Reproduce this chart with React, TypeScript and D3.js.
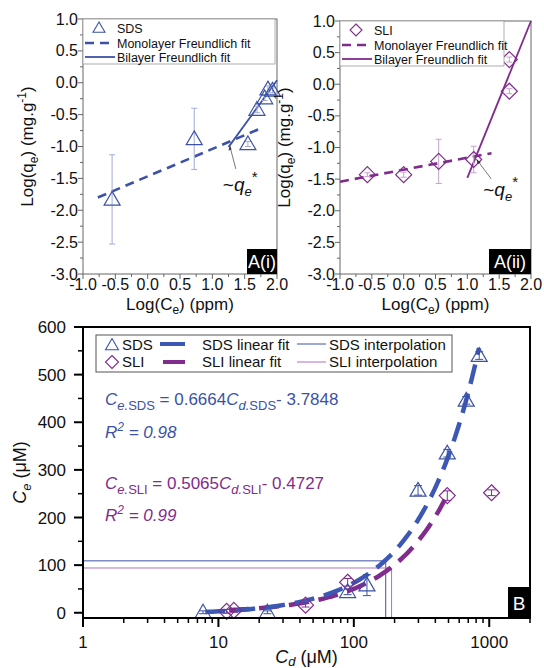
import React from "react";
import * as d3 from "d3";

// ---------- Data: panel A(i) SDS ----------
const sdsLogCe = [-0.55, 0.72, 1.55, 1.69, 1.81, 1.86, 1.93];
const sdsLogQe = [-1.83, -0.88, -0.96, -0.42, -0.24, -0.1, -0.12];
const sdsLogErr = [0.7, 0.48, 0.04, 0.05, 0.04, 0.05, 0.04];
const sdsMonoFitX = [-0.77, 1.74];
const sdsMonoFitY = [-1.8, -0.72];
const sdsBiFitX = [1.25, 2.0];
const sdsBiFitY = [-1.01, 0.04];
const sdsQeStar = [1.27, -0.99];

// ---------- Data: panel A(ii) SLI ----------
const sliLogCe = [-0.57, 0.0, 0.55, 1.1, 1.66, 1.66];
const sliLogQe = [-1.43, -1.43, -1.22, -1.19, -0.11, 0.39];
const sliLogErr = [0.03, 0.04, 0.35, 0.21, 0.04, 0.04];
const sliMonoFitX = [-1.0, 1.38];
const sliMonoFitY = [-1.54, -1.09];
const sliBiFitX = [1.0, 2.0];
const sliBiFitY = [-1.48, 1.0];
const sliQeStar = [1.14, -1.18];

const aTicks = [-1.0, -0.5, 0.0, 0.5, 1.0, 1.5, 2.0];
const aYTicks = [1.0, 0.5, 0.0, -0.5, -1.0, -1.5, -2.0, -2.5, -3.0];

// ---------- Data: panel B ----------
const bSdsCd = [7.7, 23, 90, 125, 298, 490, 676, 843];
const bSdsCe = [1, 1, 44, 58, 257, 335, 446, 540];
const bSdsErr = [3, 3, 6, 22, 10, 8, 8, 8];
const bSliCd = [11.5, 13, 44, 90, 490, 1040];
const bSliCe = [3, 5, 16, 64, 246, 252];
const bSliErr = [4, 4, 4, 8, 10, 6];
const sdsFit = { slope: 0.6664, intercept: -3.7848, from: 8, to: 840 };
const sliFit = { slope: 0.5065, intercept: -0.4727, from: 12, to: 470 };
const sdsInterp = { ce: 109, cd: 172 };
const sliInterp = { ce: 94, cd: 190 };
const bXTicks = [1, 10, 100, 1000];
const bYTicks = [0, 100, 200, 300, 400, 500, 600];

const SDS = "#3b52a8";
const SLI = "#7f2c8c";
const SDS_ERR = "#a3aad6";
const SLI_ERR = "#c7a0d0";
const FONT = "'Liberation Sans', Arial, sans-serif";

const tri = (x: number, y: number, r = 7.5) =>
  `M${x},${y - r}L${x + r},${y + r * 0.72}L${x - r},${y + r * 0.72}Z`;
const dia = (x: number, y: number, r = 7.5) =>
  `M${x},${y - r}L${x + r},${y}L${x},${y + r}L${x - r},${y}Z`;

type PanelAProps = {
  left: number; right: number; top: number; bottom: number;
  xs: number[]; ys: number[]; errs: number[];
  monoX: number[]; monoY: number[]; biX: number[]; biY: number[];
  star: number[]; color: string; errColor: string;
  marker: "tri" | "dia"; name: string; tag: string; legendRight: number;
  arrow: number[]; label: number[];
};

function PanelA(p: PanelAProps) {
  const x = d3.scaleLinear().domain([-1, 2]).range([p.left, p.right]);
  const y = d3.scaleLinear().domain([-3, 1]).range([p.bottom, p.top]);
  const minorX = d3.range(-1, 2.001, 0.25);
  const minorY = d3.range(-3, 1.001, 0.25);
  const mk = p.marker === "tri" ? tri : dia;
  const sx = (arr: number[], arrY: number[]) =>
    d3.line()(arr.map((v, i) => [x(v), y(arrY[i])]) as [number, number][]) || "";
  const sx0 = x(p.star[0]);
  const sy0 = y(p.star[1]);
  const tagW = p.tag.length > 4 ? 42 : 30;
  const midX = (p.left + p.right) / 2;
  const midY = (p.top + p.bottom) / 2;
  const isMajor = (v: number) => Math.abs(v * 2 - Math.round(v * 2)) < 1e-6;
  return (
    <g fontFamily={FONT}>
      <rect x={p.left} y={p.top} width={p.right - p.left} height={p.bottom - p.top}
        fill="none" stroke="#666" strokeWidth={1} />
      {minorX.map((v) => (
        <line key={"mx" + v} x1={x(v)} x2={x(v)} y1={p.bottom}
          y2={p.bottom + (isMajor(v) ? 5 : 3)} stroke="#666" />
      ))}
      {minorY.map((v) => (
        <line key={"my" + v} y1={y(v)} y2={y(v)} x1={p.left}
          x2={p.left - (isMajor(v) ? 5 : 3)} stroke="#666" />
      ))}
      {aTicks.map((v) => (
        <text key={"tx" + v} x={x(v)} y={p.bottom + 16} fontSize={16} textAnchor="middle" fill="#111">
          {v.toFixed(1)}
        </text>
      ))}
      {aYTicks.map((v) => (
        <text key={"ty" + v} x={p.left - 5} y={y(v) + 5.5} fontSize={16} textAnchor="end" fill="#111">
          {v.toFixed(1)}
        </text>
      ))}
      <text x={midX} y={p.bottom + 36} fontSize={17} textAnchor="middle" fill="#111">
        Log(C<tspan fontSize={12} dy={4}>e</tspan><tspan dy={-4}>) (ppm)</tspan>
      </text>
      <text transform={`translate(${p.left - 50},${midY}) rotate(-90)`} fontSize={17}
        textAnchor="middle" fill="#111">
        Log(q<tspan fontSize={12} dy={5}>e</tspan><tspan dy={-5}>) (mg.g</tspan>
        <tspan fontSize={12} dy={-7}>-1</tspan><tspan dy={7}>)</tspan>
      </text>
      <path d={sx(p.monoX, p.monoY)} stroke={p.color} strokeWidth={2.6} strokeDasharray="9,6" fill="none" />
      <path d={sx(p.biX, p.biY)} stroke={p.color} strokeWidth={1.8} fill="none" />
      {p.xs.map((v, i) => {
        const cx = x(v);
        const y1 = y(p.ys[i] + p.errs[i]);
        const y2 = y(p.ys[i] - p.errs[i]);
        return (
          <g key={"e" + i} stroke={p.errColor} strokeWidth={1}>
            <line x1={cx} x2={cx} y1={y1} y2={y2} />
            <line x1={cx - 3} x2={cx + 3} y1={y1} y2={y1} />
            <line x1={cx - 3} x2={cx + 3} y1={y2} y2={y2} />
          </g>
        );
      })}
      {p.xs.map((v, i) => (
        <path key={"m" + i} d={mk(x(v), y(p.ys[i]), 8)} fill="none" stroke={p.color} strokeWidth={1.2} />
      ))}
      <line x1={sx0 + p.arrow[0]} y1={sy0 + p.arrow[1]} x2={sx0} y2={sy0} stroke="#555" strokeWidth={0.8} />
      <path d={`M${sx0},${sy0}l${p.arrow[0] > 10 ? 1.5 : -1.2},5l3,-1.5Z`} fill="#333" />
      <text x={sx0 + p.label[0]} y={sy0 + p.label[1]} fontSize={19} fill="#111">
        ~<tspan fontStyle="italic">q</tspan>
        <tspan fontStyle="italic" fontSize={13} dy={5}>e</tspan>
        <tspan fontSize={15} dy={-14}>*</tspan>
      </text>
      <rect x={p.left} y={p.top} width={p.legendRight - p.left} height={45}
        fill="#fff" stroke="#999" strokeWidth={0.8} />
      <path d={mk(p.left + 16, p.top + 9, 6)} fill="none" stroke={p.color} strokeWidth={1.1} />
      <text x={p.left + 34} y={p.top + 14} fontSize={12.5} fill="#111">{p.name}</text>
      <line x1={p.left + 2} x2={p.left + 32} y1={p.top + 24} y2={p.top + 24}
        stroke={p.color} strokeWidth={2.6} strokeDasharray="9,6" />
      <text x={p.left + 34} y={p.top + 28.5} fontSize={12.5} fill="#111">Monolayer Freundlich fit</text>
      <line x1={p.left + 2} x2={p.left + 32} y1={p.top + 38} y2={p.top + 38}
        stroke={p.color} strokeWidth={1.8} />
      <text x={p.left + 34} y={p.top + 42.5} fontSize={12.5} fill="#111">Bilayer Freundlich fit</text>
      <rect x={p.right - tagW} y={p.bottom - 25} width={tagW} height={25} fill="#000" />
      <text x={p.right - tagW / 2} y={p.bottom - 6} fontSize={18} fill="#fff" textAnchor="middle">{p.tag}</text>
    </g>
  );
}

function PanelB() {
  const L = 83, R = 530, T = 327, B = 618;
  const x = d3.scaleLog().domain([1, 2000]).range([L, R]);
  const y = d3.scaleLinear().domain([-11, 600]).range([B, T]);
  const minorX: number[] = [];
  [1, 10, 100, 1000].forEach((d) => {
    for (let k = 2; k <= 9; k++) if (d * k <= 2000) minorX.push(d * k);
  });
  const minorY = d3.range(50, 600, 100);
  const fitPath = (f: { slope: number; intercept: number; from: number; to: number }) => {
    const n = 80;
    const pts: [number, number][] = d3.range(n + 1).map((i) => {
      const cd = f.from * Math.pow(f.to / f.from, i / n);
      return [x(cd), y(f.slope * cd + f.intercept)];
    });
    return d3.line()(pts) || "";
  };
  const errG = (cds: number[], ces: number[], errs: number[], c: string) =>
    cds.map((v, i) => {
      const cx = x(v);
      const y1 = y(ces[i] + errs[i]);
      const y2 = y(ces[i] - errs[i]);
      return (
        <g key={"be" + c + i} stroke={c} strokeWidth={1}>
          <line x1={cx} x2={cx} y1={y1} y2={y2} />
          <line x1={cx - 4} x2={cx + 4} y1={y1} y2={y1} />
          <line x1={cx - 4} x2={cx + 4} y1={y2} y2={y2} />
        </g>
      );
    });
  return (
    <g fontFamily={FONT}>
      <polyline points={`${L},${y(sdsInterp.ce)} ${x(sdsInterp.cd)},${y(sdsInterp.ce)} ${x(sdsInterp.cd)},${B}`}
        fill="none" stroke={SDS} strokeWidth={1} />
      <polyline points={`${L},${y(sliInterp.ce)} ${x(sliInterp.cd)},${y(sliInterp.ce)} ${x(sliInterp.cd)},${B}`}
        fill="none" stroke="#b070c0" strokeWidth={1} />
      <path d={fitPath(sliFit)} fill="none" stroke={SLI} strokeWidth={4.5} strokeDasharray="20,10" />
      <path d={fitPath(sdsFit)} fill="none" stroke="#3c57b4" strokeWidth={4.5} strokeDasharray="20,10" />
      {errG(bSdsCd, bSdsCe, bSdsErr, SDS)}
      {errG(bSliCd, bSliCe, bSliErr, SLI)}
      {bSdsCd.map((v, i) => (
        <path key={"bt" + i} d={tri(x(v), y(bSdsCe[i]), 8)} fill="none" stroke={SDS} strokeWidth={1.2} />
      ))}
      {bSliCd.map((v, i) => (
        <path key={"bd" + i} d={dia(x(v), y(bSliCe[i]), 8)} fill="none" stroke={SLI} strokeWidth={1.2} />
      ))}
      <rect x={L} y={T} width={R - L} height={B - T} fill="none" stroke="#000" strokeWidth={2} />
      {bXTicks.map((v) => (
        <g key={"bx" + v}>
          <line x1={x(v)} x2={x(v)} y1={B} y2={B + 9} stroke="#000" strokeWidth={2} />
          <text x={x(v)} y={B + 30} fontSize={17} textAnchor="middle" fill="#111">{v}</text>
        </g>
      ))}
      {minorX.map((v) => (
        <line key={"bmx" + v} x1={x(v)} x2={x(v)} y1={B} y2={B + 5} stroke="#000" strokeWidth={1.5} />
      ))}
      {bYTicks.map((v) => (
        <g key={"by" + v}>
          <line x1={L - 9} x2={L} y1={y(v)} y2={y(v)} stroke="#000" strokeWidth={2} />
          <text x={L - 17} y={y(v) + 6} fontSize={17} textAnchor="end" fill="#111">{v}</text>
        </g>
      ))}
      {minorY.map((v) => (
        <line key={"bmy" + v} x1={L - 5} x2={L} y1={y(v)} y2={y(v)} stroke="#000" strokeWidth={1.5} />
      ))}
      <text x={(L + R) / 2} y={B + 45} fontSize={18} textAnchor="middle" fill="#111">
        <tspan fontStyle="italic">C</tspan><tspan fontStyle="italic" fontSize={13} dy={3}>d</tspan>
        <tspan dy={-3}> (μM)</tspan>
      </text>
      <text transform={`translate(26,${(T + B) / 2}) rotate(-90)`} fontSize={18} textAnchor="middle" fill="#111">
        <tspan fontStyle="italic">C</tspan><tspan fontStyle="italic" fontSize={13} dy={5}>e</tspan>
        <tspan dy={-5}> (μM)</tspan>
      </text>
      <rect x={96} y={335} width={356} height={37} fill="#fff" stroke="#555" strokeWidth={1} />
      <path d={tri(112, 345, 6.5)} fill="none" stroke={SDS} strokeWidth={1.1} />
      <text x={122} y={349.5} fontSize={15} fill="#111">SDS</text>
      <line x1={160} x2={185} y1={344} y2={344} stroke="#3c57b4" strokeWidth={4} />
      <text x={202} y={349.5} fontSize={15} fill="#111">SDS linear fit</text>
      <line x1={297} x2={326} y1={344} y2={344} stroke={SDS} strokeWidth={1} />
      <text x={329} y={349.5} fontSize={15} fill="#111">SDS interpolation</text>
      <path d={dia(112, 362, 6.5)} fill="none" stroke={SLI} strokeWidth={1.1} />
      <text x={122} y={367} fontSize={15} fill="#111">SLI</text>
      <line x1={163} x2={185} y1={362} y2={362} stroke={SLI} strokeWidth={4} />
      <text x={202} y={367} fontSize={15} fill="#111">SLI linear fit</text>
      <line x1={297} x2={326} y1={362} y2={362} stroke="#b070c0" strokeWidth={1} />
      <text x={329} y={367} fontSize={15} fill="#111">SLI interpolation</text>
      <text x={105} y={405} fontSize={17} fill={SDS}>
        <tspan fontStyle="italic">C</tspan>
        <tspan fontSize={13} dy={5}><tspan fontStyle="italic">e.</tspan>SDS</tspan>
        <tspan dy={-5}> = 0.6664</tspan>
        <tspan fontStyle="italic">C</tspan>
        <tspan fontSize={13} dy={5}><tspan fontStyle="italic">d.</tspan>SDS</tspan>
        <tspan dy={-5}>- 3.7848</tspan>
      </text>
      <text x={105} y={438} fontSize={17} fill={SDS} fontStyle="italic">
        R<tspan fontSize={12} dy={-7}>2</tspan><tspan dy={7}> = 0.98</tspan>
      </text>
      <text x={105} y={489} fontSize={17} fill={SLI}>
        <tspan fontStyle="italic">C</tspan>
        <tspan fontSize={13} dy={5}><tspan fontStyle="italic">e.</tspan>SLI</tspan>
        <tspan dy={-5}> = 0.5065</tspan>
        <tspan fontStyle="italic">C</tspan>
        <tspan fontSize={13} dy={5}><tspan fontStyle="italic">d.</tspan>SLI</tspan>
        <tspan dy={-5}>- 0.4727</tspan>
      </text>
      <text x={105} y={521} fontSize={17} fill={SLI} fontStyle="italic">
        R<tspan fontSize={12} dy={-7}>2</tspan><tspan dy={7}> = 0.99</tspan>
      </text>
      <rect x={508} y={587} width={22} height={31} fill="#000" />
      <text x={519} y={610} fontSize={19} fill="#fff" textAnchor="middle">B</text>
    </g>
  );
}

export default function App() {
  return (
    <svg width={544} height={668} viewBox="0 0 544 668"
      style={{ position: "absolute", left: 0, top: 0, background: "#fff" }}>
      <rect width={544} height={668} fill="#fff" />
      <PanelA left={83} right={277} top={19} bottom={274}
        xs={sdsLogCe} ys={sdsLogQe} errs={sdsLogErr}
        monoX={sdsMonoFitX} monoY={sdsMonoFitY} biX={sdsBiFitX} biY={sdsBiFitY}
        star={sdsQeStar} color={SDS} errColor={SDS_ERR} marker="tri" name="SDS" tag="A(i)" legendRight={275}
        arrow={[6, 23]} label={[-7, 45]} />
      <PanelA left={340} right={531} top={21} bottom={274}
        xs={sliLogCe} ys={sliLogQe} errs={sliLogErr}
        monoX={sliMonoFitX} monoY={sliMonoFitY} biX={sliBiFitX} biY={sliBiFitY}
        star={sliQeStar} color={SLI} errColor={SLI_ERR} marker="dia" name="SLI" tag="A(ii)" legendRight={504}
        arrow={[15, 20]} label={[7, 37]} />
      <PanelB />
    </svg>
  );
}
